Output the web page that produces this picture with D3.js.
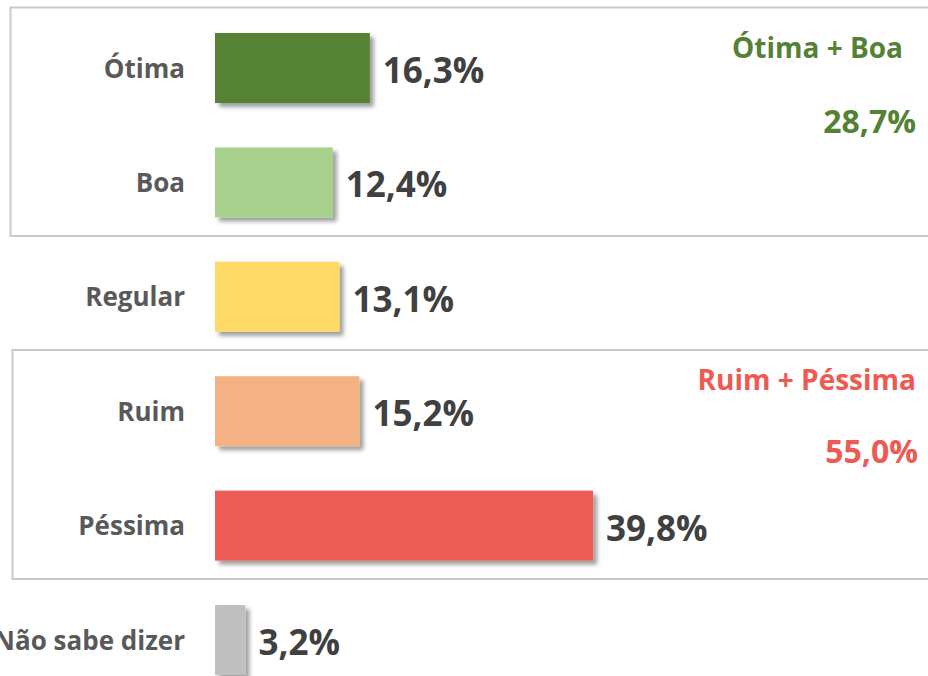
<!DOCTYPE html>
<html>
<head>
<meta charset="utf-8">
<script src="https://cdn.jsdelivr.net/npm/d3@7"></script>
<style>
  html, body { margin: 0; padding: 0; background: #fff; }
  svg { display: block; }
  text { font-family: "Open Sans", "Noto Sans", sans-serif; font-weight: 700; }
</style>
</head>
<body>
<svg id="chart" width="928" height="676"></svg>
<script>
const categories = ["Ótima", "Boa", "Regular", "Ruim", "Péssima", "Não sabe dizer"];
const values = [16.3, 12.4, 13.1, 15.2, 39.8, 3.2];
const barColors = ["#548235", "#A9D18E", "#FFD966", "#F4B183", "#ED5C55", "#BFBFBF"];
const groupLabels = ["Ótima + Boa", "Ruim + Péssima"];
const groupTotals = [28.7, 55.0];
const groupMembers = [["Ótima", "Boa"], ["Ruim", "Péssima"]];
const groupColors = ["#548235", "#EE5A52"];

const data = categories.map((c, i) => ({ cat: c, value: values[i] }));

const svg = d3.select("#chart");
const W = 928, H = 676;

const locale = d3.formatLocale({ decimal: ",", thousands: ".", grouping: [3], currency: ["R$", ""] });
const fmt = v => locale.format(".1f")(v) + "%";

const step = 114.4, pIn = 44.4 / step;
const y = d3.scaleBand()
  .domain(categories)
  .range([33 - step * pIn / 2, 33 - step * pIn / 2 + step * categories.length])
  .paddingInner(pIn)
  .paddingOuter(pIn / 2);

const x = d3.scaleLinear().domain([0, 40]).range([215, 215 + 380]);
const color = d3.scaleOrdinal().domain(categories).range(barColors);

// shadow filter
const defs = svg.append("defs");
const f = defs.append("filter").attr("id", "shadow")
  .attr("x", "-20%").attr("y", "-20%").attr("width", "150%").attr("height", "150%");
f.append("feDropShadow")
  .attr("dx", 4).attr("dy", 4).attr("stdDeviation", 2.2)
  .attr("flood-color", "#000").attr("flood-opacity", 0.38);

// group boxes
const boxes = [
  { x0: 10, y0: 7.5, y1: 236 },
  { x0: 12, y0: 350, y1: 579 }
];
svg.append("g").selectAll("rect")
  .data(boxes)
  .join("rect")
  .attr("x", d => d.x0 + 0.5)
  .attr("y", d => d.y0)
  .attr("width", W + 20)
  .attr("height", d => d.y1 - d.y0)
  .attr("fill", "none")
  .attr("stroke", "#C9C9C9")
  .attr("stroke-width", 2);

// bars
svg.append("g").selectAll("rect")
  .data(data)
  .join("rect")
  .attr("x", x(0))
  .attr("y", d => y(d.cat))
  .attr("width", d => x(d.value) - x(0))
  .attr("height", y.bandwidth())
  .attr("fill", d => color(d.cat))
  .attr("filter", "url(#shadow)");

// category labels
svg.append("g").selectAll("text")
  .data(data)
  .join("text")
  .attr("x", 185)
  .attr("y", d => y(d.cat) + y.bandwidth() / 2 + 9.5)
  .attr("text-anchor", "end")
  .attr("font-size", 26)
  .attr("fill", "#595959")
  .text(d => d.cat);

// value labels
svg.append("g").selectAll("text")
  .data(data)
  .join("text")
  .attr("x", d => x(d.value) + 13)
  .attr("y", d => y(d.cat) + y.bandwidth() / 2 + 15)
  .attr("font-size", 35)
  .attr("fill", "#404040")
  .text(d => fmt(d.value));

// group titles and totals
const titleX = [903, 916], titleDy = [25, 14];
const totalX = [916, 918], totalDy = [100, 87];
const groups = groupLabels.map((g, i) => ({ label: g, total: groupTotals[i], members: groupMembers[i], color: groupColors[i], i }));
const gg = svg.append("g").selectAll("g").data(groups).join("g");
gg.append("text")
  .attr("x", d => titleX[d.i])
  .attr("y", d => y(d.members[0]) + titleDy[d.i])
  .attr("text-anchor", "end")
  .attr("font-size", 28)
  .attr("fill", d => d.color)
  .text(d => d.label);
gg.append("text")
  .attr("x", d => totalX[d.i])
  .attr("y", d => y(d.members[0]) + totalDy[d.i])
  .attr("text-anchor", "end")
  .attr("font-size", 32)
  .attr("fill", d => d.color)
  .text(d => fmt(d.total));
</script>
</body>
</html>
